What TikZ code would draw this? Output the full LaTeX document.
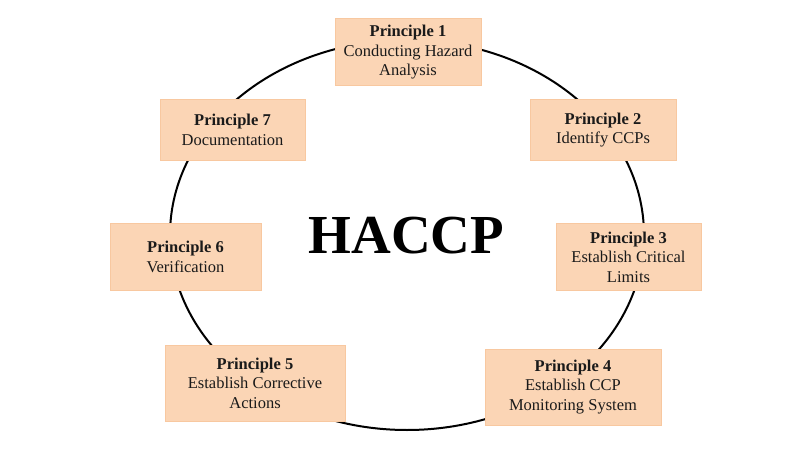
\documentclass[tikz,border=0pt]{standalone}
\usepackage{fontspec}
\setmainfont{Liberation Serif}
\definecolor{boxfill}{HTML}{FBD5B5}
\definecolor{boxline}{HTML}{F8C8A0}
\definecolor{txt}{HTML}{1A1A1A}
\begin{document}
\begin{tikzpicture}[x=1pt,y=-1pt,
  box/.style={draw=boxline, fill=boxfill, line width=1pt, align=center,
    inner sep=0pt, text=txt, font=\fontsize{16.5}{19.5}\selectfont},
  ring/.style={draw=black, line width=2pt}]
\useasboundingbox (0,0) rectangle (800,454);
\fill[white] (0,0) rectangle (800,454);
\draw[ring] (407,235) ellipse [x radius=237, y radius=195];
\node[box, minimum width=146, minimum height=67] (p1) at (408,52.5)
  {\textbf{Principle 1}\\Conducting Hazard\\Analysis};
\node[box, minimum width=146, minimum height=61] (p2) at (603,130)
  {\textbf{Principle 2}\\Identify CCPs};
\node[box, minimum width=145, minimum height=66] (p3) at (628.5,257)
  {\textbf{Principle 3}\\Establish Critical\\Limits};
\node[box, minimum width=176, minimum height=76] (p4) at (573,387)
  {\textbf{Principle 4}\\Establish CCP\\Monitoring System};
\node[box, minimum width=180, minimum height=76] (p5) at (255,383)
  {\textbf{Principle 5}\\Establish Corrective\\Actions};
\node[box, minimum width=151, minimum height=66] (p6) at (185.5,257)
  {\textbf{Principle 6}\\Verification};
\node[box, minimum width=145, minimum height=61] (p7) at (232.5,130)
  {\textbf{Principle 7}\\Documentation};
\node[font=\fontsize{55}{60}\selectfont\bfseries, text=black] (title) at (406.5,236) {HACCP};
\end{tikzpicture}
\end{document}
